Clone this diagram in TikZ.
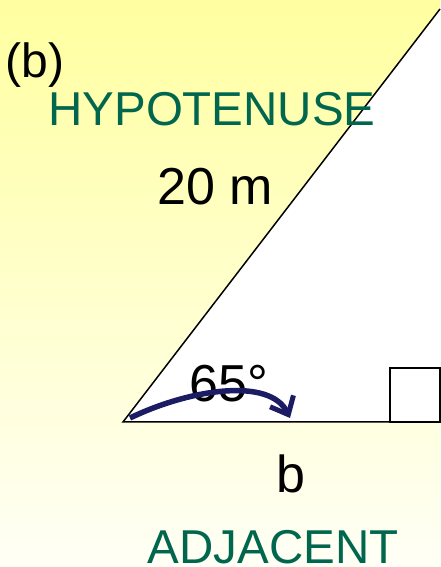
\documentclass[tikz,border=0pt]{standalone}
\usepackage{fontspec}
\setmainfont{Liberation Sans}
\usepackage{tikz}
\usetikzlibrary{arrows.meta, positioning}
\definecolor{trgreen}{RGB}{0,102,77}
\definecolor{trnavy}{RGB}{28,28,100}
\definecolor{trtop}{RGB}{255,255,160}
\definecolor{trmid}{RGB}{255,255,218}
\definecolor{trbottom}{RGB}{255,255,246}

\begin{document}
\begin{tikzpicture}[x=1pt, y=1pt,
  lbl/.style={inner sep=0pt, anchor=base, text depth=0pt, font=\fontsize{52}{60}\selectfont},
  side/.style={lbl, text=trgreen, font=\fontsize{47.5}{57}\selectfont},
  edge/.style={draw=black, line width=1.5pt},
  turn/.style={draw=trnavy, line width=5.5pt, -{Straight Barb[length=15pt, width=26pt, line width=5pt]}}
]
\useasboundingbox (0,0) rectangle (440,567);
\shade[top color=trtop, middle color=trmid, bottom color=trbottom] (0,0) rectangle (440,567);
% triangle
\coordinate (A) at (123,145);
\coordinate (C) at (440,145);
\coordinate (B) at (440,558);
\fill[white] (A) -- (B) -- (C) -- cycle;
\draw[edge] (C) -- (A) -- (B);
\draw[edge] (390,145) rectangle (C |- 0,199);
% labels
\node[lbl, font=\fontsize{48}{56}\selectfont] (part) at (35,489) {(b)};
\node[side] (hyp) at (212,441) {HYPOTENUSE};
\node[lbl] (len) at (215,362) {20 m};
\node[lbl] (ang) at (229,165) {65°};
\node[lbl] (adjb) at (291,74) {b};
\node[side] (adj) at (273,4) {ADJACENT};
% angle arrow
\coordinate (start) at (130,149);
\coordinate (tip) at (290,149);
\draw[turn] (start) .. controls (190,178) and (270,190) .. (tip);
\end{tikzpicture}
\end{document}
